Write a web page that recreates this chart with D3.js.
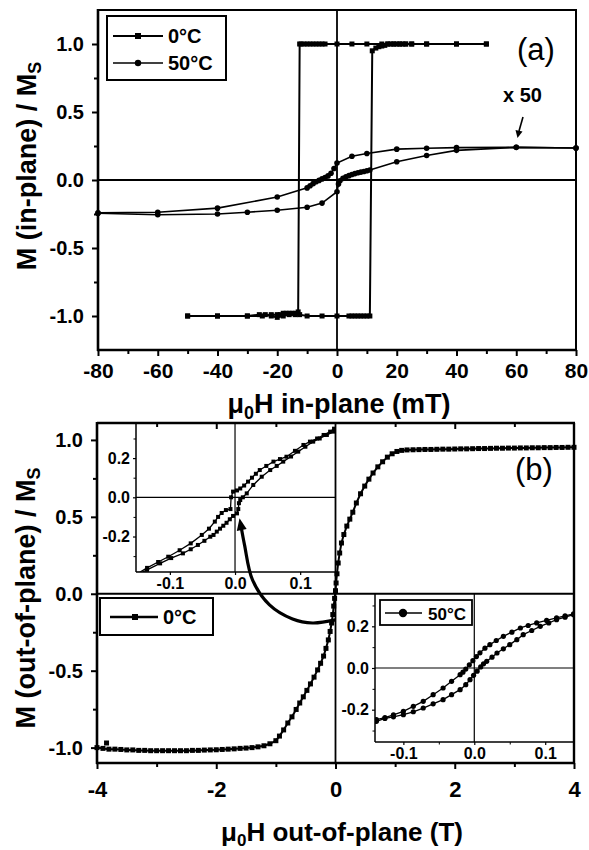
<!DOCTYPE html>
<html><head><meta charset="utf-8">
<script src="https://cdn.jsdelivr.net/npm/d3@7"></script>
<style>
body{margin:0;background:#fff}
svg text{font-family:"Liberation Sans",Arial,Helvetica,sans-serif;fill:#000}
</style>
</head><body>
<svg id="c" width="589" height="850"></svg>
<script>
// ---------------- DATA ----------------
// Panel (a): in-plane loops, 0°C (squares) and 50°C (circles, x50)
const a0DescH = [50,40,30,25,23,21,19,17,15,10,5,0,-4,-5,-6,-7,-8,-9,-10,-11,-12,-12.5,-13,-14,-15,-16,-17,-18,-19,-20,-22,-25,-30,-40,-50];
const a0DescM = [1,1,1,1,1,1,1,1,1,1,1,1,1,1,1,1,1,1,1,1,1,1,-0.97,-0.98,-0.98,-0.98,-0.98,-0.98,-0.99,-0.99,-0.99,-1,-1,-1,-1];
const a0AscH = [-50,-40,-30,-26,-24,-22,-20,-18,-16,-14,-12.5,-10,-5,0,4,5,6,7,8,9,10,11,11.8,13,14,15,16,17,18,19,20,21,22,23,25,30,40,50];
const a0AscM = [-1,-1,-1,-0.99,-0.99,-1,-1.01,-1,-0.99,-0.99,-0.99,-1,-1,-1,-1,-1,-1,-1,-1,-1,-1,-1,0.95,0.97,0.98,0.985,0.99,1,1,1,1,1,1,1,1,1,1,1];
const a50DescH = [80,60,40,30,20,10,5,0,-1,-2,-3,-4,-5,-6,-7,-8,-9,-10,-20,-40,-60,-80];
const a50DescM = [0.235,0.24,0.238,0.234,0.227,0.195,0.175,0.125,0.085,0.05,0.03,0.018,0.008,-0.003,-0.013,-0.027,-0.042,-0.058,-0.125,-0.207,-0.237,-0.242];
const a50AscH = [-80,-60,-40,-30,-20,-10,-5,0,0.5,1,2,3,4,5,6,7,8,9,10,11,20,30,40,60,80];
const a50AscM = [-0.245,-0.255,-0.25,-0.237,-0.222,-0.2,-0.17,-0.086,-0.03,-0.005,0.012,0.024,0.032,0.04,0.047,0.053,0.058,0.063,0.068,0.073,0.134,0.18,0.218,0.24,0.235];

// Panel (b): out-of-plane loop 0°C
const b0H = [-4.0,-3.9,-3.8,-3.7,-3.6,-3.5,-3.4,-3.3,-3.2,-3.1,-3.0,-2.9,-2.8,-2.7,-2.6,-2.5,-2.4,-2.3,-2.2,-2.1,-2.0,-1.9,-1.8,-1.7,-1.6,-1.5,-1.4,-1.3,-1.2,-1.1,
  -1.0,-0.94,-0.87,-0.8,-0.73,-0.66,-0.6,-0.54,-0.48,-0.42,-0.36,-0.3,-0.25,-0.2,-0.16,-0.12,-0.09,-0.065,-0.045,-0.03,-0.015,0,0.01,0.025,0.045,0.07,0.1,0.14,0.19,0.24,0.29,0.35,0.42,0.49,0.56,0.63,0.71,0.79,0.87,0.95,1.03,1.11,
  1.2,1.3,1.4,1.5,1.6,1.7,1.8,1.9,2.0,2.1,2.2,2.3,2.4,2.5,2.6,2.7,2.8,2.9,3.0,3.1,3.2,3.3,3.4,3.5,3.6,3.7,3.8,3.9,4.0];
const b0M = [-1.0,-1.005,-1.01,-1.01,-1.012,-1.015,-1.015,-1.018,-1.018,-1.02,-1.02,-1.02,-1.02,-1.02,-1.02,-1.02,-1.018,-1.018,-1.016,-1.015,-1.014,-1.012,-1.01,-1.008,-1.005,-1.003,-1.0,-0.995,-0.988,-0.975,
  -0.955,-0.925,-0.885,-0.84,-0.8,-0.752,-0.71,-0.67,-0.628,-0.586,-0.542,-0.495,-0.452,-0.405,-0.355,-0.3,-0.245,-0.19,-0.135,-0.08,-0.03,0.02,0.07,0.13,0.2,0.265,0.33,0.385,0.44,0.485,0.53,0.59,0.65,0.7,0.745,0.785,0.825,0.858,0.888,0.91,0.925,0.932,
  0.935,0.936,0.937,0.938,0.938,0.939,0.94,0.94,0.941,0.942,0.942,0.943,0.944,0.944,0.945,0.946,0.946,0.947,0.947,0.948,0.948,0.949,0.949,0.95,0.95,0.951,0.951,0.952,0.952];
const b0OutlierH = [-3.84];
const b0OutlierM = [-0.97];

// Inset 1 (0°C, low field)
const i0DescH = [0.152,0.146,0.136,0.126,0.115,0.105,0.092,0.079,0.069,0.059,0.048,0.038,0.032,0.026,0.02,0.014,0.008,0.003,-0.003,-0.006,-0.007,-0.014,-0.0205,-0.026,-0.031,-0.04,-0.051,-0.068,-0.085,-0.1025,-0.118,-0.135,-0.15];
const i0DescM = [0.35,0.335,0.318,0.3,0.284,0.267,0.237,0.207,0.195,0.182,0.16,0.139,0.12,0.1,0.08,0.06,0.045,0.035,0.029,0.0,-0.06,-0.065,-0.08,-0.1,-0.124,-0.16,-0.192,-0.235,-0.27,-0.303,-0.33,-0.36,-0.39];
const i0AscH = [-0.15,-0.135,-0.115,-0.098,-0.08,-0.068,-0.057,-0.047,-0.038,-0.033,-0.028,-0.023,-0.018,-0.013,-0.008,-0.003,0.003,0.005,0.006,0.008,0.012,0.018,0.028,0.041,0.054,0.064,0.074,0.086,0.097,0.108,0.12,0.13,0.141,0.152];
const i0AscM = [-0.395,-0.37,-0.337,-0.31,-0.286,-0.265,-0.243,-0.222,-0.201,-0.192,-0.175,-0.16,-0.145,-0.13,-0.112,-0.095,-0.082,-0.06,-0.03,-0.014,0.0,0.02,0.063,0.105,0.139,0.16,0.182,0.208,0.233,0.258,0.284,0.3,0.318,0.335];

// Inset 2 (50°C, low field)
const i50DescH = [0.14,0.128,0.116,0.102,0.088,0.076,0.065,0.053,0.041,0.031,0.022,0.015,0.008,0.003,-0.002,-0.007,-0.012,-0.016,-0.02,-0.032,-0.044,-0.058,-0.072,-0.086,-0.1,-0.114,-0.126,-0.138];
const i50DescM = [0.26,0.25,0.24,0.228,0.216,0.204,0.192,0.172,0.152,0.132,0.112,0.095,0.073,0.055,0.035,0.015,-0.005,-0.02,-0.032,-0.064,-0.096,-0.128,-0.16,-0.184,-0.208,-0.225,-0.238,-0.248];
const i50AscH = [-0.138,-0.126,-0.114,-0.1,-0.086,-0.072,-0.058,-0.044,-0.032,-0.02,-0.012,-0.006,-0.001,0.004,0.009,0.013,0.0175,0.025,0.032,0.041,0.05,0.06,0.069,0.081,0.093,0.105,0.116,0.128,0.14];
const i50AscM = [-0.256,-0.242,-0.234,-0.224,-0.21,-0.192,-0.172,-0.152,-0.128,-0.104,-0.08,-0.056,-0.035,-0.015,0.005,0.02,0.032,0.052,0.072,0.092,0.112,0.136,0.16,0.18,0.2,0.216,0.232,0.244,0.256];

// Ticks / labels
const aXTicks = [-80,-60,-40,-20,0,20,40,60,80];
const aXMinor = [-70,-50,-30,-10,10,30,50,70];
const mYTicks = [-1.0,-0.5,0.0,0.5,1.0];
const mYLabels = ["-1.0","-0.5","0.0","0.5","1.0"];
const aYMinor = [-0.75,-0.25,0.25,0.75];
const bXTicks = [-4,-2,0,2,4];
const bXMinor = [-3,-1,1,3];
const bYMinor = [-0.75,-0.25,0.25,0.75];
const insXTicks = [-0.1,0.0,0.1];
const insXLabels = ["-0.1","0.0","0.1"];
const insYTicks = [-0.2,0.0,0.2];
const insYLabels = ["-0.2","0.0","0.2"];
const insYMinor = [-0.3,-0.1,0.1,0.3];

// Annotation arrow (panel b data units)
const arrowH = [0,-0.386,-0.72,-1.107,-1.392,-1.526,-1.585];
const arrowM = [-0.17,-0.19,-0.164,-0.0725,0.09,0.318,0.44];

// ---------------- DRAW ----------------
const svg = d3.select("#c");
const zip = (H,M)=>H.map((h,i)=>[h,M[i]]);
const lab = (vals,labels)=> (d)=> labels[vals.indexOf(d)];

function styleAxis(g, fs){
  g.select(".domain").remove();
  g.selectAll(".tick line").attr("stroke","#000").attr("stroke-width",2);
  g.selectAll(".tick text").attr("font-size",fs).attr("font-weight","bold").attr("fill","#000");
}
function drawSeries(g, x, y, pts, shape, size, lw){
  g.append("path").datum(pts).attr("fill","none").attr("stroke","#000").attr("stroke-width",lw)
    .attr("d", d3.line().x(d=>x(d[0])).y(d=>y(d[1])));
  if(shape==="sq"){
    g.selectAll(null).data(pts).enter().append("rect")
      .attr("x",d=>x(d[0])-size/2).attr("y",d=>y(d[1])-size/2).attr("width",size).attr("height",size).attr("fill","#000");
  } else {
    g.selectAll(null).data(pts).enter().append("circle")
      .attr("cx",d=>x(d[0])).attr("cy",d=>y(d[1])).attr("r",size).attr("fill","#000");
  }
}

// ===== Panel (a) =====
const xa = d3.scaleLinear().domain([-80,80]).range([98,576]);
const ya = d3.scaleLinear().domain([-1.25,1.25]).range([350,10]);
const ga = svg.append("g");
ga.append("line").attr("x1",xa(0)).attr("x2",xa(0)).attr("y1",10).attr("y2",350).attr("stroke","#000").attr("stroke-width",1.8);
ga.append("line").attr("x1",98).attr("x2",576).attr("y1",ya(0)).attr("y2",ya(0)).attr("stroke","#000").attr("stroke-width",1.8);
drawSeries(ga, xa, ya, zip(a50DescH,a50DescM), "ci", 2.8, 1.6);
drawSeries(ga, xa, ya, zip(a50AscH,a50AscM), "ci", 2.8, 1.6);
drawSeries(ga, xa, ya, zip(a0DescH,a0DescM), "sq", 5, 2);
drawSeries(ga, xa, ya, zip(a0AscH,a0AscM), "sq", 5, 2);
// frame
ga.append("line").attr("x1",98).attr("x2",577).attr("y1",10).attr("y2",10).attr("stroke","#000").attr("stroke-width",2);
ga.append("line").attr("x1",576).attr("x2",576).attr("y1",10).attr("y2",350).attr("stroke","#000").attr("stroke-width",2);
ga.append("line").attr("x1",98).attr("x2",98).attr("y1",9).attr("y2",351).attr("stroke","#000").attr("stroke-width",2.6);
ga.append("line").attr("x1",97).attr("x2",577).attr("y1",350).attr("y2",350).attr("stroke","#000").attr("stroke-width",2.6);
// axes
ga.append("g").attr("transform","translate(0,350)")
  .call(d3.axisBottom(xa).tickValues(aXTicks).tickSize(6).tickPadding(7).tickFormat(d=>String(d).replace("\u2212","-")))
  .call(g=>styleAxis(g,21));
ga.append("g").attr("transform","translate(0,350)")
  .call(d3.axisBottom(xa).tickValues(aXMinor).tickSize(4).tickFormat(""))
  .call(g=>styleAxis(g,21));
ga.append("g").attr("transform","translate(98,0)")
  .call(d3.axisLeft(ya).tickValues(mYTicks).tickSize(6).tickPadding(8).tickFormat(lab(mYTicks,mYLabels)))
  .call(g=>styleAxis(g,20));
ga.append("g").attr("transform","translate(98,0)")
  .call(d3.axisLeft(ya).tickValues(aYMinor).tickSize(4).tickFormat(""))
  .call(g=>styleAxis(g,20));
// titles
const tA = ga.append("text").attr("x",339).attr("y",413).attr("text-anchor","middle").attr("font-size",27).attr("font-weight","bold");
tA.append("tspan").text("\u03bc");
tA.append("tspan").attr("font-size",18).attr("dy",6).text("0");
tA.append("tspan").attr("dy",-6).text("H in-plane (mT)");
const yA = ga.append("text").attr("transform","translate(36,166) rotate(-90)").attr("text-anchor","middle").attr("font-size",27).attr("font-weight","bold");
yA.append("tspan").text("M (in-plane) / M");
yA.append("tspan").attr("font-size",18).attr("dy",5).text("S");
// legend
ga.append("rect").attr("x",107).attr("y",16).attr("width",119).attr("height",64).attr("fill","#fff").attr("stroke","#000").attr("stroke-width",2);
ga.append("line").attr("x1",113).attr("x2",163).attr("y1",36).attr("y2",36).attr("stroke","#000").attr("stroke-width",2);
ga.append("rect").attr("x",135).attr("y",33).attr("width",6).attr("height",6);
ga.append("text").attr("x",168).attr("y",43).attr("font-size",20).attr("font-weight","bold").text("0°C");
ga.append("line").attr("x1",113).attr("x2",163).attr("y1",63).attr("y2",63).attr("stroke","#000").attr("stroke-width",1.5);
ga.append("circle").attr("cx",138).attr("cy",63).attr("r",3.2);
ga.append("text").attr("x",168).attr("y",70).attr("font-size",20).attr("font-weight","bold").text("50°C");
ga.append("text").attr("x",517).attr("y",60).attr("font-size",31).text("(a)");
ga.append("text").attr("x",503).attr("y",102).attr("font-size",20).attr("font-weight","bold").text("x 50");
// small arrow to x50 curve
ga.append("line").attr("x1",523).attr("y1",117).attr("x2",519).attr("y2",131).attr("stroke","#000").attr("stroke-width",1.6);
ga.append("path").attr("d","M515.5,130 L522.5,131.5 L517.5,138 Z").attr("fill","#000");

// ===== Panel (b) =====
const xb = d3.scaleLinear().domain([-4,4]).range([97,574]);
const yb = d3.scaleLinear().domain([-1.1,1.11]).range([763,423]);
const gb = svg.append("g");
drawSeries(gb, xb, yb, zip(b0H,b0M), "sq", 5, 2);
drawSeries(gb, xb, yb, zip(b0OutlierH,b0OutlierM), "sq", 5, 2);

// inset 1
const xi1 = d3.scaleLinear().domain([-0.152,0.155]).range([136,336]);
const yi1 = d3.scaleLinear().domain([-0.381,0.379]).range([572,423]);
const gi1 = gb.append("g");
gi1.append("rect").attr("x",136).attr("y",423).attr("width",200).attr("height",149).attr("fill","#fff");
gi1.append("defs").append("clipPath").attr("id","ci1").append("rect").attr("x",136).attr("y",423).attr("width",200).attr("height",149);
gi1.append("line").attr("x1",136).attr("x2",336).attr("y1",yi1(0)).attr("y2",yi1(0)).attr("stroke","#000").attr("stroke-width",1.2);
gi1.append("line").attr("x1",xi1(0)).attr("x2",xi1(0)).attr("y1",423).attr("y2",572).attr("stroke","#000").attr("stroke-width",1.2);
const gi1d = gi1.append("g").attr("clip-path","url(#ci1)");
drawSeries(gi1d, xi1, yi1, zip(i0AscH,i0AscM), "sq", 4, 1.3);
drawSeries(gi1d, xi1, yi1, zip(i0DescH,i0DescM), "sq", 4, 1.3);
gi1.append("line").attr("x1",136).attr("x2",136).attr("y1",423).attr("y2",572).attr("stroke","#000").attr("stroke-width",1.5);
gi1.append("line").attr("x1",136).attr("x2",336).attr("y1",572).attr("y2",572).attr("stroke","#000").attr("stroke-width",1.5);
gi1.append("g").attr("transform","translate(0,572)")
  .call(d3.axisBottom(xi1).tickValues(insXTicks).tickSize(3).tickPadding(3).tickFormat(lab(insXTicks,insXLabels)))
  .call(g=>{styleAxis(g,16); g.selectAll(".tick line").attr("stroke-width",1.2);});
gi1.append("g").attr("transform","translate(136,0)")
  .call(d3.axisLeft(yi1).tickValues(insYTicks).tickSize(3).tickPadding(3).tickFormat(lab(insYTicks,insYLabels)))
  .call(g=>{styleAxis(g,16); g.selectAll(".tick line").attr("stroke-width",1.2);});
gi1.append("g").attr("transform","translate(136,0)")
  .call(d3.axisLeft(yi1).tickValues(insYMinor).tickSize(2.5).tickFormat(""))
  .call(g=>{styleAxis(g,16); g.selectAll(".tick line").attr("stroke-width",1);});

// inset 2
const xi2 = d3.scaleLinear().domain([-0.14,0.1406]).range([375,574]);
const yi2 = d3.scaleLinear().domain([-0.355,0.355]).range([742,594]);
const gi2 = gb.append("g");
gi2.append("rect").attr("x",375).attr("y",594).attr("width",199).attr("height",148).attr("fill","#fff");
gi2.append("defs").append("clipPath").attr("id","ci2").append("rect").attr("x",375).attr("y",594).attr("width",199).attr("height",148);
gi2.append("line").attr("x1",375).attr("x2",574).attr("y1",yi2(0)).attr("y2",yi2(0)).attr("stroke","#000").attr("stroke-width",1.2);
gi2.append("line").attr("x1",xi2(0)).attr("x2",xi2(0)).attr("y1",594).attr("y2",742).attr("stroke","#000").attr("stroke-width",1.2);
const gi2d = gi2.append("g").attr("clip-path","url(#ci2)");
drawSeries(gi2d, xi2, yi2, zip(i50AscH,i50AscM), "ci", 2.6, 1.3);
drawSeries(gi2d, xi2, yi2, zip(i50DescH,i50DescM), "ci", 2.6, 1.3);
gi2.append("line").attr("x1",375).attr("x2",375).attr("y1",594).attr("y2",742).attr("stroke","#000").attr("stroke-width",1.5);
gi2.append("line").attr("x1",375).attr("x2",574).attr("y1",742).attr("y2",742).attr("stroke","#000").attr("stroke-width",1.5);
gi2.append("g").attr("transform","translate(0,742)")
  .call(d3.axisBottom(xi2).tickValues(insXTicks).tickSize(3).tickPadding(3).tickFormat(lab(insXTicks,insXLabels)))
  .call(g=>{styleAxis(g,16); g.selectAll(".tick line").attr("stroke-width",1.2);});
gi2.append("g").attr("transform","translate(0,742)")
  .call(d3.axisBottom(xi2).tickValues([-0.05,0.05]).tickSize(2.5).tickFormat(""))
  .call(g=>{styleAxis(g,16); g.selectAll(".tick line").attr("stroke-width",1);});
gi2.append("g").attr("transform","translate(375,0)")
  .call(d3.axisLeft(yi2).tickValues(insYTicks).tickSize(3).tickPadding(3).tickFormat(lab(insYTicks,insYLabels)))
  .call(g=>{styleAxis(g,16); g.selectAll(".tick line").attr("stroke-width",1.2);});
gi2.append("g").attr("transform","translate(375,0)")
  .call(d3.axisLeft(yi2).tickValues(insYMinor).tickSize(2.5).tickFormat(""))
  .call(g=>{styleAxis(g,16); g.selectAll(".tick line").attr("stroke-width",1);});
// inset2 legend
gi2.append("rect").attr("x",380).attr("y",600).attr("width",92).attr("height",25).attr("fill","#fff").attr("stroke","#000").attr("stroke-width",1.8);
gi2.append("line").attr("x1",385).attr("x2",422).attr("y1",613).attr("y2",613).attr("stroke","#000").attr("stroke-width",1.5);
gi2.append("circle").attr("cx",403).attr("cy",613).attr("r",4.2);
gi2.append("text").attr("x",428).attr("y",620).attr("font-size",17).attr("font-weight","bold").text("50°C");

// zero lines of panel b
gb.append("line").attr("x1",xb(0)).attr("x2",xb(0)).attr("y1",423).attr("y2",763).attr("stroke","#000").attr("stroke-width",1.8);
gb.append("line").attr("x1",97).attr("x2",574).attr("y1",yb(0)).attr("y2",yb(0)).attr("stroke","#000").attr("stroke-width",1.8);

// frame b
gb.append("line").attr("x1",97).attr("x2",575).attr("y1",423).attr("y2",423).attr("stroke","#000").attr("stroke-width",2.4);
gb.append("line").attr("x1",574).attr("x2",574).attr("y1",423).attr("y2",763).attr("stroke","#000").attr("stroke-width",2.4);
gb.append("line").attr("x1",97).attr("x2",97).attr("y1",422).attr("y2",764).attr("stroke","#000").attr("stroke-width",2.6);
gb.append("line").attr("x1",96).attr("x2",575).attr("y1",763).attr("y2",763).attr("stroke","#000").attr("stroke-width",2.6);
gb.append("g").attr("transform","translate(0,763)")
  .call(d3.axisBottom(xb).tickValues(bXTicks).tickSize(6).tickPadding(12).tickFormat(d=>String(d).replace("\u2212","-")))
  .call(g=>styleAxis(g,22));
gb.append("g").attr("transform","translate(0,763)")
  .call(d3.axisBottom(xb).tickValues(bXMinor).tickSize(4).tickFormat(""))
  .call(g=>styleAxis(g,22));
// inward top ticks
gb.append("g").attr("transform","translate(0,423)")
  .call(d3.axisBottom(xb).tickValues([-2,2]).tickSize(6).tickFormat(""))
  .call(g=>styleAxis(g,22));
gb.append("g").attr("transform","translate(0,423)")
  .call(d3.axisBottom(xb).tickValues(bXMinor).tickSize(4).tickFormat(""))
  .call(g=>styleAxis(g,22));
gb.append("g").attr("transform","translate(97,0)")
  .call(d3.axisLeft(yb).tickValues(mYTicks).tickSize(6).tickPadding(8).tickFormat(lab(mYTicks,mYLabels)))
  .call(g=>styleAxis(g,20));
gb.append("g").attr("transform","translate(97,0)")
  .call(d3.axisLeft(yb).tickValues(bYMinor).tickSize(4).tickFormat(""))
  .call(g=>styleAxis(g,20));

// legend b
gb.append("rect").attr("x",100).attr("y",598).attr("width",113).attr("height",37).attr("fill","#fff").attr("stroke","#000").attr("stroke-width",2);
gb.append("line").attr("x1",110).attr("x2",158).attr("y1",617).attr("y2",617).attr("stroke","#000").attr("stroke-width",2.4);
gb.append("rect").attr("x",132).attr("y",614).attr("width",6).attr("height",6);
gb.append("text").attr("x",163).attr("y",624).attr("font-size",20).attr("font-weight","bold").text("0°C");
gb.append("text").attr("x",515).attr("y",480).attr("font-size",31).text("(b)");

// curved arrow
const ap = zip(arrowH,arrowM);
gb.append("path").datum(ap).attr("fill","none").attr("stroke","#000").attr("stroke-width",3.2)
  .attr("d", d3.line().curve(d3.curveCatmullRom).x(d=>xb(d[0])).y(d=>yb(d[1])));
{
  const p1 = ap[ap.length-2], p2 = ap[ap.length-1];
  const x1=xb(p1[0]),y1=yb(p1[1]),x2=xb(p2[0]),y2=yb(p2[1]);
  const ang=Math.atan2(y2-y1,x2-x1);
  const L=12,W=5;
  const tx=x2+Math.cos(ang)*8, ty=y2+Math.sin(ang)*8;
  const bx=tx-Math.cos(ang)*L, by=ty-Math.sin(ang)*L;
  gb.append("path").attr("d",`M${tx},${ty} L${bx-Math.sin(ang)*W},${by+Math.cos(ang)*W} L${bx+Math.sin(ang)*W},${by-Math.cos(ang)*W} Z`).attr("fill","#000");
}

// titles b
const tB = gb.append("text").attr("x",342).attr("y",841).attr("text-anchor","middle").attr("font-size",26).attr("font-weight","bold");
tB.append("tspan").text("\u03bc");
tB.append("tspan").attr("font-size",17).attr("dy",5).text("0");
tB.append("tspan").attr("dy",-5).text("H out-of-plane (T)");
const yB = gb.append("text").attr("transform","translate(35,598) rotate(-90)").attr("text-anchor","middle").attr("font-size",27).attr("font-weight","bold");
yB.append("tspan").text("M (out-of-plane) / M");
yB.append("tspan").attr("font-size",18).attr("dy",5).text("S");
</script>
</body></html>
